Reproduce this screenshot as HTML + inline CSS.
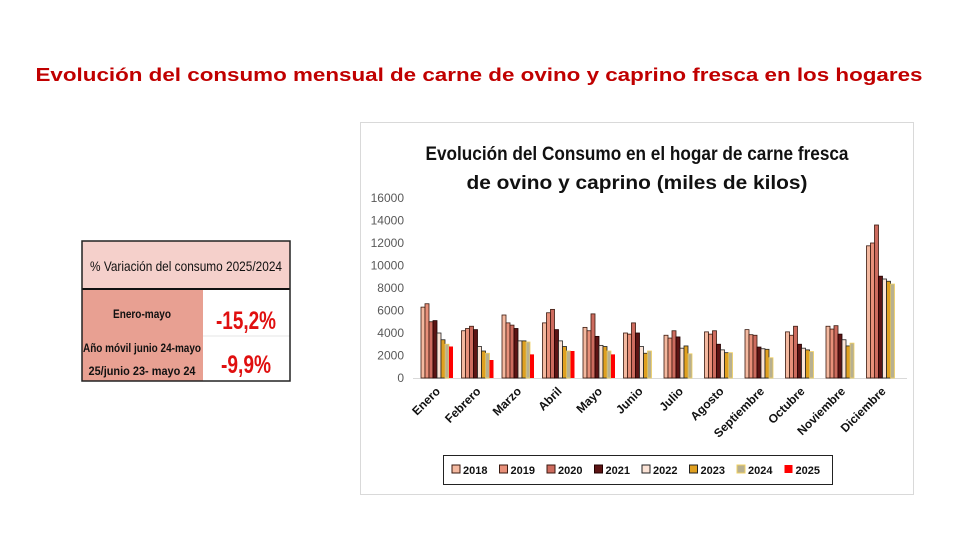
<!DOCTYPE html>
<html><head><meta charset="utf-8"><style>
body{margin:0;background:#fff;}
svg{display:block;font-family:"Liberation Sans",sans-serif;}
</style></head><body>
<svg id="s" width="980" height="560" viewBox="0 0 980 560" xmlns="http://www.w3.org/2000/svg">
<text x="479" y="81" text-anchor="middle" font-size="18" font-weight="bold" fill="#c00000" textLength="887" lengthAdjust="spacingAndGlyphs">Evolución del consumo mensual de carne de ovino y caprino fresca en los hogares</text>
<!-- table -->
<rect x="82" y="241" width="208" height="48" fill="#f5d0cb"/>
<rect x="82" y="289" width="121" height="92" fill="#e8a092"/>
<rect x="203" y="289" width="87" height="92" fill="#fff"/>
<line x1="203" y1="336" x2="290" y2="336" stroke="#e6e6e6" stroke-width="1"/>
<line x1="82" y1="289" x2="290" y2="289" stroke="#111" stroke-width="2"/>
<rect x="82" y="241" width="208" height="140" fill="none" stroke="#222" stroke-width="1.5"/>
<text x="186" y="271" text-anchor="middle" font-size="14" fill="#111" textLength="192" lengthAdjust="spacingAndGlyphs">%  Variación del consumo 2025/2024</text>
<text x="142" y="318" text-anchor="middle" font-size="12" font-weight="bold" fill="#111" textLength="58" lengthAdjust="spacingAndGlyphs">Enero-mayo</text>
<text x="142" y="352" text-anchor="middle" font-size="12" font-weight="bold" fill="#111" textLength="118" lengthAdjust="spacingAndGlyphs">Año móvil junio 24-mayo</text>
<text x="142" y="375" text-anchor="middle" font-size="12" font-weight="bold" fill="#111" textLength="107" lengthAdjust="spacingAndGlyphs">25/junio  23- mayo 24</text>
<text x="246" y="329" text-anchor="middle" font-size="25" font-weight="bold" fill="#e01010" textLength="60" lengthAdjust="spacingAndGlyphs">-15,2%</text>
<text x="246" y="373" text-anchor="middle" font-size="25" font-weight="bold" fill="#e01010" textLength="50" lengthAdjust="spacingAndGlyphs">-9,9%</text>
<!-- chart frame -->
<rect x="360.5" y="122.5" width="553" height="372" fill="#fff" stroke="#d9d9d9"/>
<text x="637" y="160" text-anchor="middle" font-size="19" font-weight="bold" fill="#111" textLength="423" lengthAdjust="spacingAndGlyphs">Evolución del Consumo en el hogar de carne fresca</text>
<text x="637" y="189" text-anchor="middle" font-size="19" font-weight="bold" fill="#111" textLength="341" lengthAdjust="spacingAndGlyphs">de ovino y caprino (miles de kilos)</text>
<line x1="413" y1="378.5" x2="907" y2="378.5" stroke="#d9d9d9"/>
<g id="yl" font-size="12" fill="#595959" text-anchor="end"></g>
<g id="bars"></g>
<g id="xl" font-size="12" font-weight="bold" fill="#111" text-anchor="end"></g>
<rect x="443.5" y="455.5" width="389" height="29" fill="none" stroke="#222"/>
<g id="leg" font-size="11" font-weight="bold" fill="#111"></g>
</svg>
<script>
var ns="http://www.w3.org/2000/svg";
function el(p,t,a,txt){var e=document.createElementNS(ns,t);for(var k in a)e.setAttribute(k,a[k]);if(txt)e.textContent=txt;document.getElementById(p).appendChild(e);}
for(var v=0;v<=16000;v+=2000){el('yl','text',{x:404,y:378-v*0.01125+4},String(v));}
var cols=['#f4b9a0','#e8907a','#cd6b5e','#5c1414','#fbe3d6','#e0a020','#b8b090','#ff0000'];
var strokes=['#3a1a10','#3a1a10','#3a1a10','#200','#222','#222','#f0d060','none'];
var data=[
[6300,6600,5000,5100,4000,3400,3000,2800],
[4200,4400,4600,4300,2800,2400,2200,1600],
[5600,4900,4700,4400,3300,3300,3200,2100],
[4900,5800,6100,4300,3300,2800,2400,2400],
[4500,4200,5700,3700,2900,2800,2400,2100],
[4000,3900,4900,4000,2800,2200,2400],
[3800,3550,4200,3650,2650,2850,2150],
[4100,3900,4200,3000,2500,2250,2250],
[4300,3850,3800,2750,2600,2550,1800],
[4100,3800,4600,3000,2650,2500,2350],
[4600,4350,4650,3900,3400,2850,3100],
[11750,12000,13600,9050,8800,8600,8350]];
var months=['Enero','Febrero','Marzo','Abril','Mayo','Junio','Julio','Agosto','Septiembre','Octubre','Noviembre','Diciembre'];
for(var i=0;i<12;i++){
 var c=437+i*40.5;
 for(var j=0;j<data[i].length;j++){
  var h=data[i][j]*0.01125;
  el('bars','rect',{x:c-16+j*4,y:378-h,width:4,height:h,fill:cols[j],stroke:strokes[j],'stroke-width':0.8});
 }
 el('xl','text',{x:c+4,y:392,transform:'rotate(-45 '+(c+4)+' 392)'},months[i]);
}
var yrs=['2018','2019','2020','2021','2022','2023','2024','2025'];
for(var k=0;k<8;k++){
 var x=452+k*47.5;
 el('leg','rect',{x:x,y:465,width:8,height:8,fill:cols[k],stroke:k==7?'none':strokes[k],'stroke-width':1});
 el('leg','text',{x:x+11,y:474},yrs[k]);
}
</script>
</body></html>
